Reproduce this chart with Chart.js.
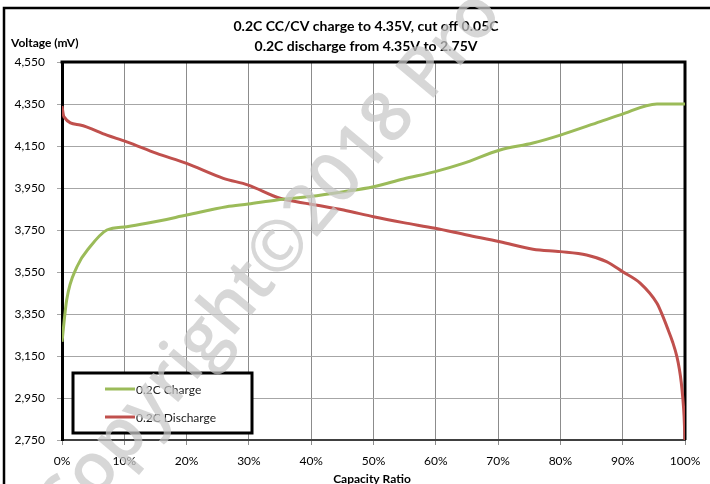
<!DOCTYPE html>
<html>
<head>
<meta charset="utf-8">
<script src="https://cdn.jsdelivr.net/npm/chart.js@4/dist/chart.umd.min.js"></script>
<style>
  html, body { margin: 0; padding: 0; background: #fff; }
  #wrap { width: 710px; height: 484px; }
</style>
</head>
<body>
<div id="wrap"><canvas id="chart" width="710" height="484"></canvas></div>
<script>
const titleLines = ["0.2C CC/CV charge to 4.35V, cut off 0.05C", "0.2C discharge from 4.35V to 2.75V"];
const yTitle = "Voltage (mV)";
const xTitle = "Capacity Ratio";
const seriesNames = ["0.2C Charge", "0.2C Discharge"];
const watermark = "Copyright\u00A92018 Pro";

// capacity ratio (%) / voltage (mV)
const chargeX = [0, 0.75, 2.4, 4.5, 7.2, 10.4, 13.6, 20, 26.4, 29.9, 34.5, 39.8, 45.2, 50, 54.8, 59.9, 64.4, 70.3, 75.6, 80, 86.4, 89.6, 95.5, 100];
const chargeY = [3218, 3417, 3575, 3670, 3750, 3766, 3782, 3821, 3861, 3874, 3893, 3909, 3932, 3956, 3993, 4028, 4067, 4131, 4164, 4202, 4266, 4298, 4350, 4350];
const dischargeX = [0, 0.3, 2.9, 7.2, 10.4, 15.2, 20, 25.9, 29.9, 35, 39.8, 45.2, 50, 54.8, 59.9, 65, 70.3, 75.6, 80, 84.2, 87.4, 90, 92.8, 95.5, 96.5, 97.3, 98, 98.7, 99.1, 99.4, 99.65, 99.85, 100];
const dischargeY = [4340, 4290, 4250, 4202, 4170, 4115, 4067, 3996, 3964, 3901, 3874, 3845, 3813, 3785, 3758, 3726, 3694, 3658, 3647, 3631, 3599, 3551, 3497, 3401, 3335, 3274, 3218, 3147, 3087, 3024, 2949, 2865, 2750];

const yMin = 2750, yMax = 4550, yStep = 200;
const xMin = 0, xMax = 100, xStep = 10;

const colors = ["#9BBB59", "#C0504D"];
const FONT = "Lato, 'Open Sans', sans-serif";

function toPoints(xs, ys) {
  return xs.map((x, i) => ({ x: x, y: ys[i] }));
}

// frame, titles, legend box and watermark drawn straight on the canvas
const decorPlugin = {
  id: "decor",
  beforeDatasetsDraw(chart) {
    const { ctx, chartArea: a } = chart;
    ctx.save();
    ctx.strokeStyle = "#000";
    ctx.lineWidth = 3;
    ctx.beginPath();
    ctx.moveTo(a.left - 1.5, a.top);
    ctx.lineTo(a.right, a.top);
    ctx.lineTo(a.right, a.bottom);
    ctx.stroke();
    ctx.restore();
  },
  afterDraw(chart) {
    const { ctx } = chart;
    ctx.save();

    // outer chart frame
    ctx.strokeStyle = "#000";
    ctx.lineWidth = 2.5;
    ctx.beginPath();
    ctx.moveTo(4, 490);
    ctx.lineTo(4, 8);
    ctx.lineTo(715, 8);
    ctx.stroke();

    // titles
    ctx.fillStyle = "#000";
    ctx.textBaseline = "middle";
    ctx.textAlign = "center";
    ctx.font = "bold 14px " + FONT;
    ctx.fillText(titleLines[0], 366, 26);
    ctx.fillText(titleLines[1], 366, 46);
    ctx.font = "bold 12px " + FONT;
    ctx.fillText(xTitle, 372, 479);
    ctx.textAlign = "left";
    ctx.fillText(yTitle, 11, 43);

    // legend
    const lx = 73, ly = 373, lw = 179, lh = 60;
    ctx.fillStyle = "#fff";
    ctx.fillRect(lx, ly, lw, lh);
    ctx.strokeStyle = "#000";
    ctx.lineWidth = 3;
    ctx.strokeRect(lx, ly, lw, lh);
    const rows = [389, 417];
    ctx.font = "12px " + FONT;
    chart.data.datasets.forEach((ds, i) => {
      ctx.strokeStyle = ds.borderColor;
      ctx.lineWidth = 3;
      ctx.beginPath();
      ctx.moveTo(105, rows[i]);
      ctx.lineTo(135, rows[i]);
      ctx.stroke();
      ctx.fillStyle = "#1a1a1a";
      ctx.fillText(ds.label, 136, rows[i] + 1);
    });

    // watermark across the plot
    const wmFont = "600 100px 'Open Sans'";
    ctx.font = wmFont;
    const pre = ctx.measureText("C").width + ctx.measureText("p").width / 2;
    const post = ctx.measureText(watermark.slice(0, -2)).width - ctx.measureText("P").width / 2;
    const size = 100 * 520 / (post - pre);
    ctx.font = "600 " + size + "px 'Open Sans'";
    const k = size / 100;
    ctx.translate(94, 472);
    ctx.rotate(-50 * Math.PI / 180);
    ctx.fillStyle = "rgba(200,200,200,0.72)";
    ctx.textBaseline = "alphabetic";
    ctx.fillText(watermark, -pre * k, 0.28 * size);
    ctx.restore();
  },
};

new Chart(document.getElementById("chart"), {
  type: "line",
  data: {
    datasets: [
      {
        label: seriesNames[0],
        data: toPoints(chargeX, chargeY),
        borderColor: colors[0],
        borderWidth: 3,
        pointRadius: 0,
        cubicInterpolationMode: "monotone",
      },
      {
        label: seriesNames[1],
        data: toPoints(dischargeX, dischargeY),
        borderColor: colors[1],
        borderWidth: 3,
        pointRadius: 0,
        cubicInterpolationMode: "monotone",
      },
    ],
  },
  options: {
    responsive: false,
    animation: false,
    events: [],
    layout: { padding: { top: 62, right: 25, left: 0, bottom: 0 } },
    plugins: {
      legend: { display: false },
      title: { display: false },
      tooltip: { enabled: false },
    },
    scales: {
      x: {
        type: "linear",
        min: xMin,
        max: xMax,
        afterFit: (s) => { s.height = 44; },
        grid: { color: "#8c8c8c", lineWidth: 1, tickLength: 5 },
        border: { color: "#404040", width: 2 },
        ticks: {
          stepSize: xStep,
          padding: 9,
          color: "#000",
          font: { family: FONT, size: 12 },
          callback: (v) => v + "%",
        },
      },
      y: {
        min: yMin,
        max: yMax,
        afterFit: (s) => { s.width = 62; },
        grid: { color: "#a6a6a6", lineWidth: 1, tickLength: 5 },
        border: { color: "#000", width: 3 },
        ticks: {
          stepSize: yStep,
          padding: 12,
          color: "#000",
          font: { family: FONT, size: 12 },
          callback: (v) => v.toLocaleString("en-US"),
        },
      },
    },
  },
  plugins: [decorPlugin],
});
</script>
</body>
</html>
